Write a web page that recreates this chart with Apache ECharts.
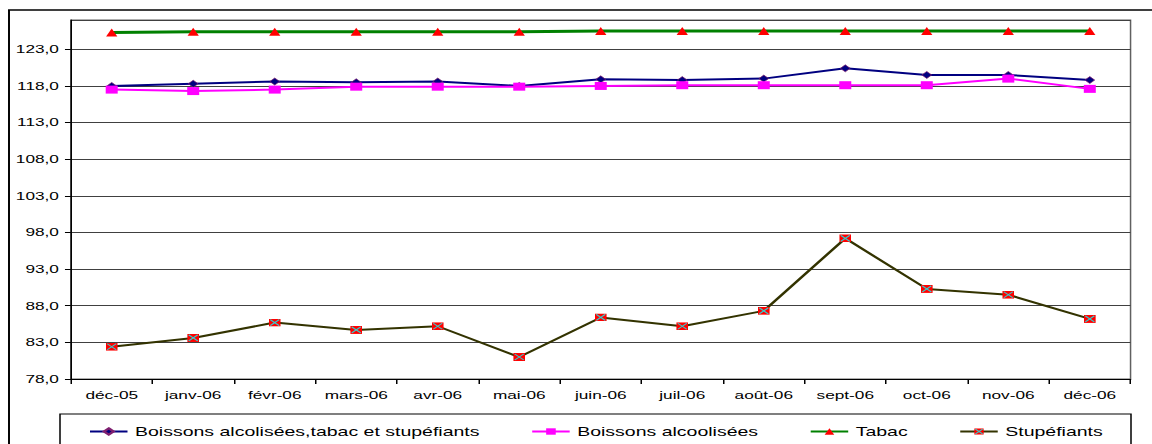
<!DOCTYPE html>
<html><head><meta charset="utf-8">
<script src="https://cdn.jsdelivr.net/npm/echarts@6/dist/echarts.min.js"></script>
<style>
html,body{margin:0;padding:0;background:#fff;overflow:hidden;}
#wrap{width:1152px;height:444px;overflow:hidden;position:relative;}
#chart{width:768px;height:444px;transform:scaleX(1.5);transform-origin:0 0;}
</style></head><body><div id="wrap"><div id="chart"></div></div>
<script>
// Data
const categories = ['déc-05','janv-06','févr-06','mars-06','avr-06','mai-06','juin-06','juil-06','août-06','sept-06','oct-06','nov-06','déc-06'];
const totalValues = [118.0,118.3,118.6,118.5,118.6,118.0,118.9,118.8,119.0,120.4,119.5,119.5,118.8];
const alcoolValues = [117.5,117.3,117.5,117.9,117.9,117.9,118.0,118.1,118.1,118.1,118.1,119.0,117.6];
const tabacValues = [125.3,125.4,125.4,125.4,125.4,125.4,125.5,125.5,125.5,125.5,125.5,125.5,125.5];
const stupValues = [82.4,83.6,85.7,84.7,85.2,81.0,86.4,85.2,87.3,97.2,90.3,89.5,86.2];
const seriesNames = ['Boissons alcolisées,tabac et stupéfiants','Boissons alcoolisées','Tabac','Stupéfiants'];
const yMin = 78, yMax = 127, yStep = 5;

const FONT = "'Liberation Sans', Arial, sans-serif";
const stupSymbol = 'image://data:image/svg+xml;utf8,' + encodeURIComponent(
  "<svg xmlns='http://www.w3.org/2000/svg' width='16' height='16'><rect width='16' height='16' fill='#ff0000'/><path d='M2 2L14 14M14 2L2 14' stroke='#33cccc' stroke-width='2'/></svg>");

const chart = echarts.init(document.getElementById('chart'), null, {renderer: 'svg'});
chart.setOption({
  animation: false,
  backgroundColor: '#ffffff',
  grid: {left: 47.3, right: 14.3, top: 20, bottom: 65, show: true, borderColor: '#606060', borderWidth: 1, backgroundColor: 'transparent'},
  graphic: [
    {type: 'rect', shape: {x: 6, y: 10, width: 900, height: 600}, style: {fill: 'none', stroke: '#000', lineWidth: 1.3}, silent: true, z: -1},
    {type: 'rect', shape: {x: 40, y: 414, width: 714, height: 60}, style: {fill: '#fff', stroke: '#000', lineWidth: 1}, silent: true, z: 0}
  ],
  legend: {
    data: seriesNames,
    left: 54, top: 420,
    itemWidth: 25, itemHeight: 8, itemGap: 34,
    textStyle: {fontFamily: FONT, fontSize: 13, color: '#000'},
    z: 5
  },
  xAxis: {
    type: 'category', data: categories, boundaryGap: true,
    axisLine: {lineStyle: {color: '#000', width: 1}},
    axisTick: {show: true, length: 5, lineStyle: {color: '#000'}},
    axisLabel: {fontFamily: FONT, fontSize: 11.5, color: '#000', margin: 10, interval: 0}
  },
  yAxis: {
    type: 'value', min: yMin, max: yMax, interval: yStep,
    axisLine: {show: true, lineStyle: {color: '#000', width: 1}},
    axisTick: {show: true, length: 4, lineStyle: {color: '#000'}},
    axisLabel: {fontFamily: FONT, fontSize: 11.5, color: '#000', margin: 8, showMaxLabel: false,
      formatter: v => v.toFixed(1).replace('.', ',')},
    splitLine: {show: true, lineStyle: {color: '#404040', width: 1}}
  },
  series: [
    {name: seriesNames[0], type: 'line', data: totalValues, symbol: 'diamond', symbolSize: [6.5, 7],
      lineStyle: {color: '#000080', width: 2}, itemStyle: {color: '#000080', borderColor: '#7f1f6f', borderWidth: 0.6}},
    {name: seriesNames[1], type: 'line', data: alcoolValues, symbol: 'rect', symbolSize: [8, 8],
      lineStyle: {color: '#ff00ff', width: 2}, itemStyle: {color: '#ff00ff'}},
    {name: seriesNames[2], type: 'line', data: tabacValues, symbol: 'triangle', symbolSize: [7.5, 8],
      lineStyle: {color: '#008000', width: 3}, itemStyle: {color: '#ff0000'}},
    {name: seriesNames[3], type: 'line', data: stupValues, symbol: stupSymbol, symbolSize: [8, 8],
      lineStyle: {color: '#333300', width: 2}, itemStyle: {color: '#333300'}}
  ]
});
</script></body></html>
